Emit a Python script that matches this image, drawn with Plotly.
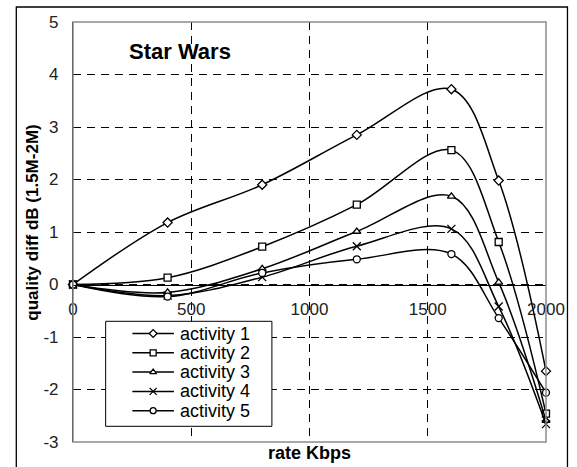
import plotly.graph_objects as go

# Rate points (Kbps) and quality difference (dB) for each activity level
rate_kbps = [0, 400, 800, 1200, 1600, 1800, 2000]
activity_1 = [0, 1.18, 1.90, 2.85, 3.72, 1.98, -1.65]
activity_2 = [0, 0.13, 0.72, 1.52, 2.56, 0.81, -2.46]
activity_3 = [0, -0.15, 0.30, 1.01, 1.68, 0.04, -2.59]
activity_4 = [0, -0.21, 0.14, 0.73, 1.06, -0.42, -2.66]
activity_5 = [0, -0.23, 0.22, 0.48, 0.58, -0.64, -2.06]

series_names = ["activity 1", "activity 2", "activity 3", "activity 4", "activity 5"]
series_values = [activity_1, activity_2, activity_3, activity_4, activity_5]
symbols = ["diamond", "square", "triangle-up", "x-thin", "circle"]

x_ticks = [0, 500, 1000, 1500, 2000]
y_ticks = [-3, -2, -1, 0, 1, 2, 3, 4, 5]
y_tick_labels = ["-3", "-2", "-1", "0", "1", "2", "3", "4", "5"]

FONT = "Liberation Sans, Arial, sans-serif"

# plot area in pixels: left 73, right 551, top 21.7, bottom 441.7
def px_x(px):
    return (px - 73) / 478


def px_y(py):
    return (441.7 - py) / 420


fig = go.Figure()

for name, vals, sym in zip(series_names, series_values, symbols):
    fig.add_trace(go.Scatter(
        x=rate_kbps, y=vals, name=name, mode="lines+markers",
        line=dict(color="black", width=1.5, shape="spline", smoothing=1.0),
        marker=dict(symbol=sym, size=7 if sym != "x-thin" else 8,
                    color="white" if sym != "x-thin" else "black",
                    line=dict(color="black", width=1.3)),
        showlegend=False, cliponaxis=False,
    ))

# Hand-built legend on an overlay axis spanning the plot area (0..1)
bx0, bx1, by0, by1 = px_x(106), px_x(274), px_y(426), px_y(321)
fig.add_trace(go.Scatter(
    x=[bx0, bx1, bx1, bx0, bx0], y=[by0, by0, by1, by1, by0],
    mode="lines", fill="toself", fillcolor="white",
    line=dict(color="black", width=1), xaxis="x2", yaxis="y2",
    showlegend=False, hoverinfo="skip",
))

row_y = [px_y(py) for py in [333.2, 352.5, 371.8, 391.1, 410.4]]
x_line0, x_line1, x_mark, x_text = px_x(133), px_x(175), px_x(154), px_x(179)
annotations = []
for name, sym, ry in zip(series_names, symbols, row_y):
    fig.add_trace(go.Scatter(
        x=[x_line0, x_line1], y=[ry, ry], mode="lines",
        line=dict(color="black", width=1.5), xaxis="x2", yaxis="y2",
        showlegend=False, hoverinfo="skip",
    ))
    fig.add_trace(go.Scatter(
        x=[x_mark], y=[ry], mode="markers",
        marker=dict(symbol=sym, size=6 if sym != "x-thin" else 7,
                    color="white" if sym != "x-thin" else "black",
                    line=dict(color="black", width=1.3)),
        xaxis="x2", yaxis="y2", showlegend=False, hoverinfo="skip",
    ))
    annotations.append(dict(x=x_text, y=ry, xref="paper", yref="paper", text=name,
                            showarrow=False, xanchor="left", yanchor="middle",
                            font=dict(family=FONT, size=18, color="black")))

shapes = [
    # plot area border (grey)
    dict(type="rect", xref="paper", yref="paper", x0=0, x1=1, y0=0, y1=1,
         line=dict(color="#8c8c8c", width=1.5), layer="above"),
    # outer chart frame
    dict(type="path", xref="paper", yref="paper",
         path=f"M {px_x(15.7)},{px_y(490)} L {px_x(15.7)},{px_y(6.7)} "
              f"L {px_x(572.7)},{px_y(6.7)} L {px_x(572.7)},{px_y(490)}",
         line=dict(color="black", width=1.3)),
]

annotations += [
    dict(text="Star Wars", xref="paper", yref="paper", x=px_x(180.7), y=px_y(51.7),
         xanchor="center", yanchor="middle", showarrow=False,
         font=dict(family=FONT, size=22, color="black", weight="bold")),
    dict(text="rate Kbps", xref="paper", yref="paper", x=px_x(312), y=px_y(453),
         xanchor="center", yanchor="middle", showarrow=False,
         font=dict(family=FONT, size=18, color="black", weight="bold")),
    dict(text="quality diff dB (1.5M-2M)", xref="paper", yref="paper",
         x=px_x(32), y=px_y(222), textangle=-90, showarrow=False,
         xanchor="center", yanchor="middle",
         font=dict(family=FONT, size=17, color="black", weight="bold")),
]

fig.update_layout(
    width=577, height=467,
    margin=dict(l=73, r=26, t=22, b=25),
    paper_bgcolor="white", plot_bgcolor="white",
    font=dict(family=FONT, size=17, color="black"),
    shapes=shapes,
    annotations=annotations,
    xaxis=dict(
        range=[0, 2000], tickvals=x_ticks, ticktext=[str(v) for v in x_ticks],
        anchor="free", position=0.375, showline=True, linecolor="black", linewidth=1.2,
        showgrid=True, gridcolor="black", gridwidth=1, griddash="8px,6px",
        zeroline=False, ticks="", ticklabelstandoff=9,
        tickfont=dict(family=FONT, size=17, color="#222"),
    ),
    yaxis=dict(
        range=[-3, 5], tickvals=y_ticks, ticktext=y_tick_labels,
        showline=True, linecolor="black", linewidth=1.2,
        showgrid=True, gridcolor="black", gridwidth=1, griddash="8px,6px",
        zeroline=False, ticks="", ticklabelstandoff=10,
        tickfont=dict(family=FONT, size=17, color="#222"),
    ),
    xaxis2=dict(range=[0, 1], overlaying="x", visible=False, fixedrange=True),
    yaxis2=dict(range=[0, 1], overlaying="y", visible=False, fixedrange=True),
)

fig.write_html("out.html")
